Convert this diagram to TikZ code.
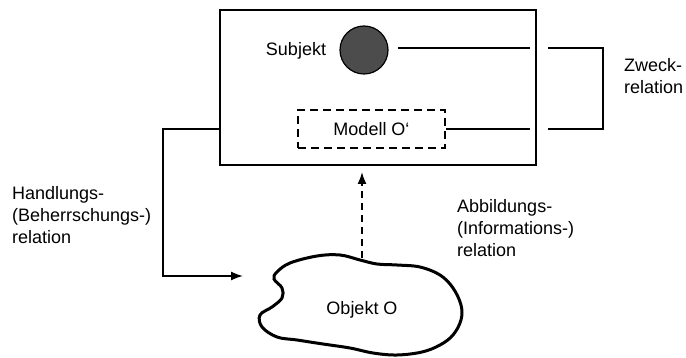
\documentclass[tikz,border=0pt]{standalone}
\usepackage{fontspec}
\setmainfont{Liberation Sans}
\usetikzlibrary{arrows.meta}
\tikzstyle{sys}=[draw, line width=1.6pt, minimum width=316pt, minimum height=155pt, inner sep=0pt]
\tikzstyle{subj}=[circle, draw, fill=black!70, line width=1.2pt, minimum size=48pt, inner sep=0pt]
\tikzstyle{model}=[draw, line width=1.6pt, dash pattern=on 8pt off 5pt, minimum width=147pt, minimum height=38pt, inner sep=0pt]
\tikzstyle{lab}=[inner sep=0pt, align=left, anchor=west]
\tikzstyle{conn}=[line width=1.6pt]

\begin{document}
\begin{tikzpicture}[x=1pt, y=-1pt, >={Latex[length=12pt,width=9pt]},
  font=\fontsize{18}{22}\selectfont]
	\useasboundingbox (0,0) rectangle (686,358);

		% System (box with subject and model)
		\node[sys] (box) at (378,87.5) {};
		\node[subj] (sub) at (364,50) {};
		\node[anchor=base, inner sep=0pt] (sublab) at (296,56) {Subjekt};
		\node[model] (mod) at (371.5,129) {Modell O‘};
		% Object (cloud)
		\draw[line width=3pt] plot[smooth cycle, tension=0.6] coordinates {
			(277,272) (290,263) (317,256) (340,255) (360,260) (377,264) (397,265)
			(420,267) (440,275) (453,288) (461,305) (461,320) (453,335) (440,345)
			(422,352) (397,355) (373,353) (350,348) (323,344) (297,340) (277,337)
			(262,327) (260,315) (272,307) (282,298) (282,288) (274,279)};
		\node (obj) at (362,310) {Objekt O};
		% Free ends of the connectors
		\foreach \xpos/\ypos/\lab in {398/48/s1, 530/48/s2, 548/48/z1, 603/48/z2,
			603/129/z3, 548/129/z4, 530/129/m1, 220/129/h0, 163/276/h1, 243/276/h2,
			362/258/o0, 362/172/o1}
		\node[coordinate] (\lab) at (\xpos,\ypos) {};

		\draw[conn] (s1) -- (s2);
		\draw[conn] (mod.east) -- (m1);
		\draw[conn] (z1) -- (z2) -- (z3) -- (z4);
		\draw[conn,->] (h0) -| (h1) -- (h2);
		\draw[conn,->,dash pattern=on 7pt off 5pt] (o0) -- (o1);

		% Labels
		\node[lab] (hand) at (12,215) {Handlungs-\\(Beherrschungs-)\\relation};
		\node[lab] (abb) at (457,228) {Abbildungs-\\(Informations-)\\relation};
		\node[lab] (zweck) at (624,76) {Zweck-\\relation};
\end{tikzpicture}
\end{document}
